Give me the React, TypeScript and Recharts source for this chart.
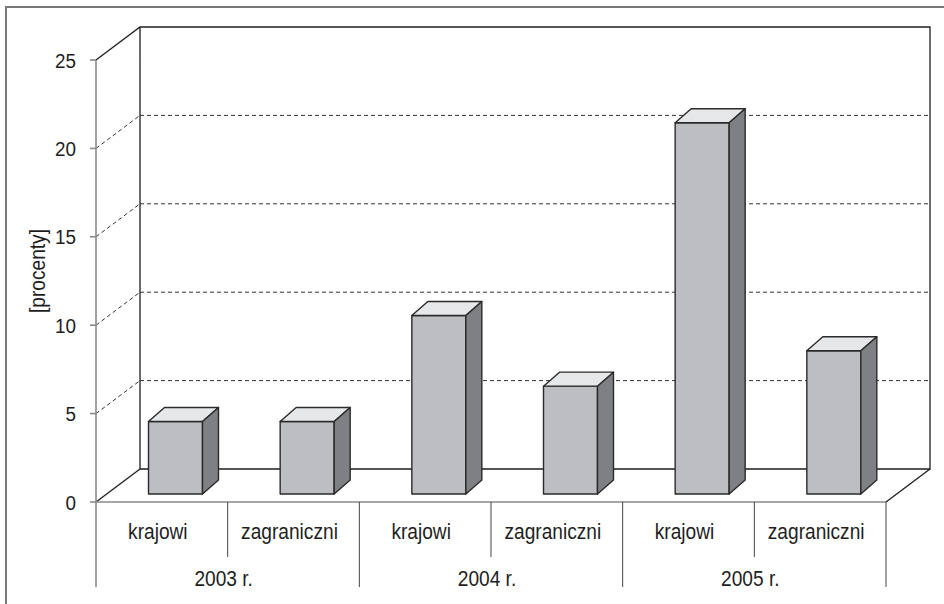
import React from 'react'
import { BarChart, Bar, XAxis, YAxis, CartesianGrid } from 'recharts'

// ─── Data ─────────────────────────────────────────────────────────────────────
const categories = ['krajowi', 'zagraniczni', 'krajowi', 'zagraniczni', 'krajowi', 'zagraniczni']
const years      = ['2003 r.', '2004 r.', '2005 r.']
const values     = [4.1, 4.1, 10.1, 6.1, 21.0, 8.1]
const yTicks     = [0, 5, 10, 15, 20, 25]

const data = categories.map((name, i) => ({ name, year: years[Math.floor(i / 2)], value: values[i] }))

// ─── Geometry / styles ────────────────────────────────────────────────────────
const W = 944
const H = 604
const PLOT_LEFT  = 96
const PLOT_RIGHT = 886
const PLOT_TOP   = 60
const PLOT_BOT   = 502
const BAND       = (PLOT_RIGHT - PLOT_LEFT) / categories.length

const WALL_DX = 44   // depth of the back wall
const WALL_DY = 33
const BAR_W   = 54
const BAR_DX  = 16   // depth of each box
const BAR_DY  = 14
const BAR_SHIFT_X = 13.5
const BAR_SHIFT_Y = 8

const FONT = "'Liberation Sans', Arial, sans-serif"
const FONT_SIZE = 22
const SQUEEZE = 0.87   // condensed look of the original typeface
const LABEL_DX = -4
const AXIS_GRAY = '#8a8a8a'
const INK = '#1e1e1e'

// narrow text: horizontally squeezed around its anchor
function NarrowText({ x, y, rotate = 0, children }: { x: number; y: number; rotate?: number; children: React.ReactNode }) {
  return (
    <g transform={`translate(${x},${y}) rotate(${rotate}) scale(${SQUEEZE},1)`}>
      <text x={0} y={0} textAnchor="middle" fill={INK} fontSize={FONT_SIZE} fontFamily={FONT}>{children}</text>
    </g>
  )
}

// ─── Back wall, floor and dashed grid ─────────────────────────────────────────
function gridLine(props: any) {
  const { x1, y1, x2, y, height, index } = props
  const top = y
  const bot = y + height
  const interior = y1 > top + 1 && y1 < bot - 1
  return (
    <g key={`gl-${index}`}>
      {index === 0 && (
        <g stroke={INK} strokeWidth={1.3} fill="none">
          <polyline points={`${x1},${top} ${x1 + WALL_DX},${top - WALL_DY} ${x2 + WALL_DX},${top - WALL_DY} ${x2 + WALL_DX},${bot - WALL_DY} ${x1 + WALL_DX},${bot - WALL_DY} ${x1 + WALL_DX},${top - WALL_DY}`} />
          <line x1={x1} y1={bot} x2={x1 + WALL_DX} y2={bot - WALL_DY} />
          <line x1={x2} y1={bot} x2={x2 + WALL_DX} y2={bot - WALL_DY} />
        </g>
      )}
      {interior && (
        <g stroke="#333" strokeWidth={1} strokeDasharray="4 3" fill="none">
          <line x1={x1} y1={y1} x2={x1 + WALL_DX} y2={y1 - WALL_DY} />
          <line x1={x1 + WALL_DX} y1={y1 - WALL_DY} x2={x2 + WALL_DX} y2={y1 - WALL_DY} />
        </g>
      )}
    </g>
  )
}

// ─── 3D box bar ───────────────────────────────────────────────────────────────
function Box3D(props: any) {
  const { x, y, width, height } = props
  const fx = x + (width - BAR_W) / 2 + BAR_SHIFT_X
  const top = y - BAR_SHIFT_Y
  const bot = y + height - BAR_SHIFT_Y
  const rx = fx + BAR_W
  return (
    <g stroke="#2a2a2a" strokeWidth={1.4} strokeLinejoin="round">
      <polygon points={`${fx},${top} ${rx},${top} ${rx},${bot} ${fx},${bot}`} fill="#bdbec1" />
      <polygon points={`${fx},${top} ${fx + BAR_DX},${top - BAR_DY} ${rx + BAR_DX},${top - BAR_DY} ${rx},${top}`} fill="#e6e7e9" />
      <polygon points={`${rx},${top} ${rx + BAR_DX},${top - BAR_DY} ${rx + BAR_DX},${bot - BAR_DY} ${rx},${bot}`} fill="#7f8084" />
    </g>
  )
}

// ─── Two-level category axis ──────────────────────────────────────────────────
function CategoryTick(props: any) {
  const { x, y, payload, index } = props
  const half = BAND / 2
  const groupEnd = index % 2 === 1
  return (
    <g>
      {index === 0 && <line x1={x - half} y1={y} x2={x - half} y2={y + 85} stroke={AXIS_GRAY} strokeWidth={1.6} />}
      <line x1={x + half} y1={y} x2={x + half} y2={y + (groupEnd ? 85 : 55)} stroke="#444" strokeWidth={1} />
      <NarrowText x={x + LABEL_DX} y={y + 37}>{payload.value}</NarrowText>
      {groupEnd && <NarrowText x={x - half + LABEL_DX} y={y + 84}>{years[Math.floor(index / 2)]}</NarrowText>}
    </g>
  )
}

function YTick(props: any) {
  const { x, y, payload } = props
  return (
    <g transform={`translate(${x},${y}) scale(0.9,1)`}>
      <text x={0} y={0} dy="0.36em" textAnchor="end" fill={INK} fontSize={21} fontFamily={FONT}>{payload.value}</text>
    </g>
  )
}

function YLabel(props: any) {
  const { viewBox } = props
  const cx = 45
  const cy = viewBox.y + viewBox.height / 2 - 10
  return <NarrowText x={cx} y={cy} rotate={-90}>[procenty]</NarrowText>
}

export default function App() {
  const yAxisW = 60
  const xAxisH = 90
  return (
    <div style={{ position: 'absolute', left: 0, top: 0, width: W, height: H, background: '#fff', overflow: 'hidden' }}>
      <div style={{ position: 'absolute', left: 5, top: 6, width: W + 20, height: H + 20, borderLeft: '2px solid #7a7a7a', borderTop: '2px solid #7a7a7a' }} />
      <BarChart
        width={W}
        height={H}
        data={data}
        margin={{ top: PLOT_TOP, right: W - PLOT_RIGHT, bottom: H - PLOT_BOT - xAxisH, left: PLOT_LEFT - yAxisW }}
        barCategoryGap={0}
      >
        <CartesianGrid vertical={false} horizontal={gridLine} />
        <XAxis
          dataKey="name"
          height={xAxisH}
          interval={0}
          tickSize={0}
          tickMargin={0}
          tickLine={false}
          axisLine={{ stroke: AXIS_GRAY, strokeWidth: 1.6 }}
          tick={CategoryTick}
        />
        <YAxis
          type="number"
          width={yAxisW}
          domain={[0, 25]}
          ticks={yTicks}
          allowDataOverflow
          tickSize={6}
          tickMargin={14}
          axisLine={{ stroke: AXIS_GRAY, strokeWidth: 1.6 }}
          tickLine={{ stroke: AXIS_GRAY, strokeWidth: 1.6 }}
          tick={YTick}
          label={{ content: YLabel }}
        />
        <Bar dataKey="value" barSize={BAR_W} shape={Box3D} isAnimationActive={false} />
      </BarChart>
    </div>
  )
}
